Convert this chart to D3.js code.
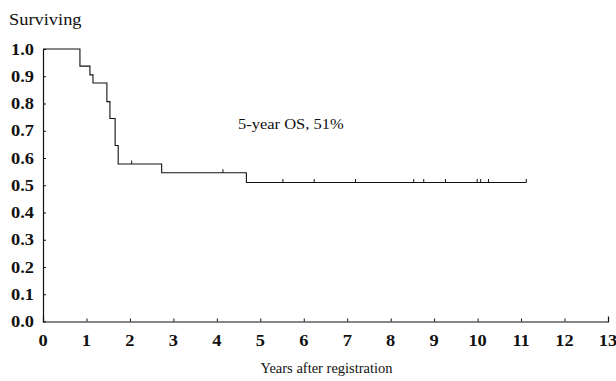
<!DOCTYPE html>
<html>
<head>
<meta charset="utf-8">
<script src="https://cdn.jsdelivr.net/npm/d3@7/dist/d3.min.js"></script>
<style>
  html, body { margin: 0; padding: 0; background: #fff; }
  svg { display: block; }
  text { font-family: "Liberation Serif", "DejaVu Serif", serif; fill: #111; }
</style>
</head>
<body>
<svg id="chart" width="616" height="381"></svg>
<script>
// Kaplan-Meier step data (years, survival probability)
const eventTimes = [0, 0.85, 1.08, 1.15, 1.47, 1.54, 1.66, 1.73, 2.73, 4.68];
const survival   = [1.0, 0.937, 0.905, 0.875, 0.807, 0.745, 0.646, 0.578, 0.546, 0.51];
const followUpEnd = 11.12;
// Censoring marks (years)
const censorTimes = [2.04, 4.14, 5.52, 6.24, 7.19, 8.53, 8.76, 9.26, 9.99, 10.07, 10.25, 11.12];
// Tick labels
const xTicks = [0,1,2,3,4,5,6,7,8,9,10,11,12,13];
const yTicks = [0,0.1,0.2,0.3,0.4,0.5,0.6,0.7,0.8,0.9,1.0];
const yTitle = "Surviving";
const xTitle = "Years after registration";
const annotation = "5-year OS, 51%";

const svg = d3.select("#chart");
const x = d3.scaleLinear().domain([0, 13]).range([43, 608]);
const y = d3.scaleLinear().domain([0, 1]).range([321.5, 49]);

// step function value lookup
function survAt(t) {
  let s = survival[0];
  for (let i = 0; i < eventTimes.length; i++) if (eventTimes[i] <= t) s = survival[i];
  return s;
}

// Axes
const xAxis = d3.axisBottom(x).tickValues(xTicks).tickSize(-3).tickSizeOuter(-5).tickFormat("");
const gx = svg.append("g").attr("transform", `translate(0,${y(0)})`).call(xAxis);
const yAxis = d3.axisLeft(y).tickValues(yTicks).tickSize(-3).tickSizeOuter(0).tickFormat("");
const gy = svg.append("g").attr("transform", `translate(${x(0)},0)`).call(yAxis);
svg.selectAll(".domain").attr("stroke", "#111").attr("stroke-width", 1.2);
svg.selectAll(".tick line").attr("stroke", "#111").attr("stroke-width", 1);

// Tick labels (serif, bold, slightly stretched like the scan)
const sx = 1.15;
svg.append("g").selectAll("text").data(xTicks).join("text")
  .attr("transform", d => `translate(${x(d)},346) scale(${sx},1)`)
  .attr("text-anchor", "middle")
  .attr("font-size", 16).attr("font-weight", "bold")
  .text(d => d);
svg.append("g").selectAll("text").data(yTicks).join("text")
  .attr("transform", d => `translate(34,${y(d) + 5.5}) scale(${sx},1)`)
  .attr("text-anchor", "end")
  .attr("font-size", 16).attr("font-weight", "bold")
  .text(d => d.toFixed(1));

// Titles
svg.append("text")
  .attr("transform", `translate(9,25) scale(${sx},1)`)
  .attr("font-size", 16)
  .text(yTitle);
svg.append("text")
  .attr("x", 326.5).attr("y", 373)
  .attr("text-anchor", "middle")
  .attr("font-size", 14.5)
  .text(xTitle);

// KM curve
const pts = eventTimes.map((t, i) => [t, survival[i]]);
pts.push([followUpEnd, survival[survival.length - 1]]);
const line = d3.line().x(d => x(d[0])).y(d => y(d[1])).curve(d3.curveStepAfter);
svg.append("path").datum(pts)
  .attr("d", line)
  .attr("fill", "none").attr("stroke", "#111").attr("stroke-width", 1.1);

// Censor marks
svg.append("g").selectAll("line").data(censorTimes).join("line")
  .attr("x1", d => x(d)).attr("x2", d => x(d))
  .attr("y1", d => y(survAt(d))).attr("y2", d => y(survAt(d)) - 3.5)
  .attr("stroke", "#111").attr("stroke-width", 1);

// Annotation
svg.append("text")
  .attr("transform", `translate(238,129) scale(1.1,1)`)
  .attr("font-size", 15)
  .text(annotation);
</script>
</body>
</html>
